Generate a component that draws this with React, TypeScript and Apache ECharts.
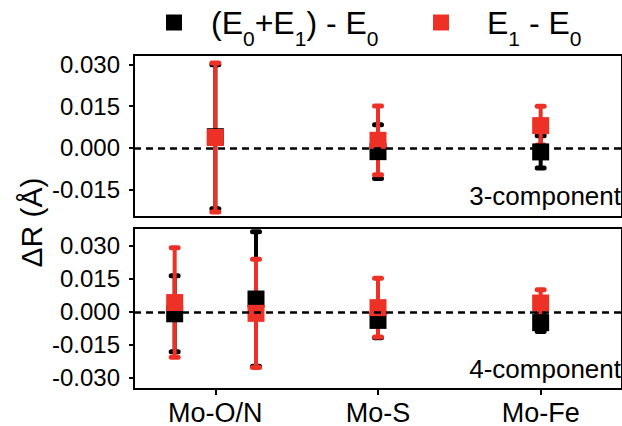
import React, { useEffect, useRef } from "react";
import * as echarts from "echarts";

// ---- data ----
const categories = ["Mo-O/N", "Mo-S", "Mo-Fe"];
const categoryPositions = [1, 2, 3];

const seriesBlack = "(E0+E1) - E0";
const seriesRed = "E1 - E0";

// top panel (3-component)
const topX = [1, 2, 3];
const topBlackValues = [0.004, -0.0014, -0.0015];
const topBlackErrors = [0.026, 0.0097, 0.0058];
const topRedValues = [0.0037, 0.0027, 0.008];
const topRedErrors = [0.0269, 0.0124, 0.007];

// bottom panel (4-component)
const bottomX = [0.75, 1.25, 2, 3];
const bottomBlackValues = [-0.0009, 0.0058, -0.0039, -0.0049];
const bottomBlackErrors = [0.0172, 0.0305, 0.0079, 0.004];
const bottomRedValues = [0.0042, -0.0007, 0.0019, 0.004];
const bottomRedErrors = [0.0248, 0.0245, 0.0133, 0.006];

const topMajorTicks = [-0.015, 0, 0.015, 0.03];
const topMinorTicks = [-0.0225, -0.0075, 0.0075, 0.0225];
const bottomMajorTicks = [-0.03, -0.015, 0, 0.015, 0.03];
const bottomMinorTicks = [-0.0225, -0.0075, 0.0075, 0.0225, 0.0375];

const panelLabels = ["3-component", "4-component"];
const yTitle = "ΔR (Å)";

const FONT = '"Liberation Sans", Arial, Helvetica, sans-serif';
const BLACK = "#000000";
const RED = "#ee3126";

function errorRenderer(color: string) {
  return (params: any, api: any) => {
    const x = api.value(0);
    const y = api.value(1);
    const e = api.value(2);
    const t = api.coord([x, y + e]);
    const b = api.coord([x, y - e]);
    const w = 3.5;
    return {
      type: "group",
      children: [
        {
          type: "line",
          shape: { x1: t[0], y1: t[1], x2: b[0], y2: b[1] },
          style: { stroke: color, lineWidth: 4 },
        },
        {
          type: "line",
          shape: { x1: t[0] - w, y1: t[1], x2: t[0] + w, y2: t[1] },
          style: { stroke: color, lineWidth: 5, lineCap: "round" },
        },
        {
          type: "line",
          shape: { x1: b[0] - w, y1: b[1], x2: b[0] + w, y2: b[1] },
          style: { stroke: color, lineWidth: 5, lineCap: "round" },
        },
      ],
    };
  };
}

function zeroLine() {
  return {
    silent: true,
    symbol: "none",
    label: { show: false },
    lineStyle: { color: BLACK, width: 2.5, type: [7, 5], opacity: 1 },
    emphasis: { disabled: true },
    data: [{ yAxis: 0 }],
  };
}

function majorYAxis(grid: number, min: number, max: number, ticks: number[]) {
  return {
    type: "value",
    gridIndex: grid,
    min,
    max,
    splitLine: { show: false },
    axisLine: { show: true, onZero: false, lineStyle: { color: BLACK, width: 2 } },
    axisTick: {
      show: true,
      inside: false,
      length: 5,
      customValues: ticks,
      lineStyle: { color: BLACK, width: 2 },
    },
    axisLabel: {
      customValues: ticks,
      formatter: (v: number) => v.toFixed(3),
      fontFamily: FONT,
      fontSize: 24,
      color: BLACK,
      margin: 14,
    },
  };
}

function minorYAxis(grid: number, min: number, max: number, ticks: number[]) {
  return {
    type: "value",
    gridIndex: grid,
    min,
    max,
    splitLine: { show: false },
    axisLine: { show: false, onZero: false },
    axisLabel: { show: false },
    axisTick: {
      show: true,
      inside: false,
      length: 3.5,
      customValues: ticks,
      lineStyle: { color: BLACK, width: 2 },
    },
  };
}

const legendRich = {
  g: { width: 24, fontSize: 32, lineHeight: 52 },
  g2: { width: 33, fontSize: 32, lineHeight: 52 },
  m: { fontSize: 32, lineHeight: 52, fontFamily: FONT, color: BLACK },
  s: { fontSize: 21, lineHeight: 21, verticalAlign: "bottom", fontFamily: FONT, color: BLACK },
};

function scatterSeries(name: string, color: string, xi: number, yi: number, data: number[][], withZero: boolean) {
  const s: any = {
    name,
    type: "scatter",
    xAxisIndex: xi,
    yAxisIndex: yi,
    symbol: "rect",
    symbolSize: 17,
    itemStyle: { color, opacity: 1 },
    emphasis: { disabled: true },
    data,
  };
  if (withZero) s.markLine = zeroLine();
  return s;
}

function errorSeries(name: string, color: string, xi: number, yi: number, data: number[][]) {
  return {
    name,
    type: "custom",
    xAxisIndex: xi,
    yAxisIndex: yi,
    renderItem: errorRenderer(color),
    encode: { x: 0, y: 1 },
    data,
  };
}

export default function App() {
  const ref = useRef<HTMLDivElement>(null);
  useEffect(() => {
    if (!ref.current) return;
    const chart = echarts.init(ref.current, undefined, { renderer: "svg" });
    const mk = (xs: number[], ys: number[], es?: number[]) =>
      xs.map((x, i) => (es ? [x, ys[i], es[i]] : [x, ys[i]]));
    const option: any = {
      animation: false,
      backgroundColor: "#ffffff",
      textStyle: { fontFamily: FONT },
      legend: [
        {
          left: 166,
          top: 6.5,
          padding: 0,
          itemWidth: 16,
          itemHeight: 16,
          selectedMode: false,
          data: [{ name: seriesBlack, icon: "rect", itemStyle: { color: BLACK, opacity: 1 } }],
          formatter: () => "{g| }{m|(E}{s|0}{m|+E}{s|1}{m|) - E}{s|0}",
          textStyle: { rich: legendRich },
        },
        {
          left: 433,
          top: 6.5,
          padding: 0,
          itemWidth: 16,
          itemHeight: 16,
          selectedMode: false,
          data: [{ name: seriesRed, icon: "rect", itemStyle: { color: RED, opacity: 1 } }],
          formatter: () => "{g2| }{m|E}{s|1}{m| - E}{s|0}",
          textStyle: { rich: legendRich },
        },
      ],
      grid: [
        { left: 134, top: 55, width: 495, height: 162, show: true, borderColor: BLACK, borderWidth: 2, backgroundColor: "transparent" },
        { left: 134, top: 228, width: 495, height: 162, show: true, borderColor: BLACK, borderWidth: 2, backgroundColor: "transparent" },
      ],
      xAxis: [
        {
          type: "value",
          gridIndex: 0,
          min: 0.5,
          max: 3.5,
          splitLine: { show: false },
          axisLine: { show: false, onZero: false },
          axisTick: { show: false },
          axisLabel: { show: false },
        },
        {
          type: "value",
          gridIndex: 1,
          min: 0.5,
          max: 3.5,
          position: "bottom",
          splitLine: { show: false },
          axisLine: { show: true, onZero: false, lineStyle: { color: BLACK, width: 2 } },
          axisTick: {
            show: true,
            inside: false,
            length: 6,
            customValues: categoryPositions,
            lineStyle: { color: BLACK, width: 2 },
          },
          axisLabel: {
            customValues: categoryPositions,
            formatter: (v: number) => categories[categoryPositions.indexOf(v)] ?? "",
            fontFamily: FONT,
            fontSize: 27,
            color: BLACK,
            margin: 10,
          },
        },
      ],
      yAxis: [
        majorYAxis(0, -0.025, 0.0335, topMajorTicks),
        minorYAxis(0, -0.025, 0.0335, topMinorTicks),
        majorYAxis(1, -0.035, 0.038, bottomMajorTicks),
        minorYAxis(1, -0.035, 0.038, bottomMinorTicks),
      ],
      series: [
        errorSeries("err-black-top", BLACK, 0, 0, mk(topX, topBlackValues, topBlackErrors)),
        scatterSeries(seriesBlack, BLACK, 0, 0, mk(topX, topBlackValues), false),
        errorSeries("err-red-top", RED, 0, 0, mk(topX, topRedValues, topRedErrors)),
        scatterSeries(seriesRed, RED, 0, 0, mk(topX, topRedValues), true),
        errorSeries("err-black-bottom", BLACK, 1, 2, mk(bottomX, bottomBlackValues, bottomBlackErrors)),
        scatterSeries(seriesBlack, BLACK, 1, 2, mk(bottomX, bottomBlackValues), false),
        errorSeries("err-red-bottom", RED, 1, 2, mk(bottomX, bottomRedValues, bottomRedErrors)),
        scatterSeries(seriesRed, RED, 1, 2, mk(bottomX, bottomRedValues), true),
      ],
      graphic: [
        {
          type: "text",
          x: 31.6,
          y: 222.5,
          rotation: Math.PI / 2,
          style: {
            text: yTitle,
            fontFamily: FONT,
            fontSize: 30,
            fill: BLACK,
            align: "center",
            verticalAlign: "middle",
          },
        },
        {
          type: "text",
          x: 621,
          y: 196,
          style: {
            text: panelLabels[0],
            fontFamily: FONT,
            fontSize: 26,
            fill: BLACK,
            align: "right",
            verticalAlign: "middle",
          },
        },
        {
          type: "text",
          x: 621,
          y: 369,
          style: {
            text: panelLabels[1],
            fontFamily: FONT,
            fontSize: 26,
            fill: BLACK,
            align: "right",
            verticalAlign: "middle",
          },
        },
      ],
    };
    chart.setOption(option);
    return () => chart.dispose();
  }, []);
  return (
    <div
      ref={ref}
      style={{ position: "absolute", left: 0, top: 0, width: 622, height: 426 }}
    />
  );
}
